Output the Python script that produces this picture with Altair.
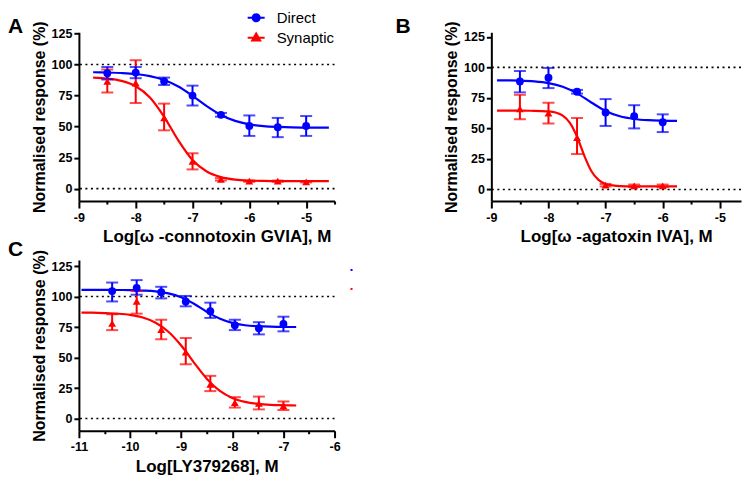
import altair as alt
import pandas as pd

SERIES = ["Direct", "Synaptic"]
COLORS = ["#0000ff", "#ff0000"]
SHAPES = ["circle", "triangle-up"]
Y_TICKS = [0, 25, 50, 75, 100, 125]
Y_TITLE = "Normalised response (%)"
REF_LINES = [0, 100]

# ---------------- Panel A : omega-connotoxin GVIA ----------------
A_x = [-8.5, -8.0, -7.5, -7.0, -6.5, -6.0, -5.5, -5.0]
A_direct = [93.0, 93.5, 86.5, 75.0, 59.5, 50.5, 49.5, 50.5]
A_direct_lo = [88.0, 89.0, 83.5, 67.0, 58.0, 42.5, 41.5, 42.5]
A_direct_hi = [98.0, 98.0, 89.5, 83.0, 61.0, 59.0, 57.0, 58.5]
A_syn = [86.5, 85.0, 57.0, 22.0, 7.5, 6.0, 6.0, 5.5]
A_syn_lo = [77.5, 69.0, 47.0, 15.5, 6.5, 5.5, 5.5, 5.0]
A_syn_hi = [96.0, 103.5, 68.5, 28.5, 8.5, 6.5, 6.5, 6.0]
A_curve_x = [-8.75, -8.5, -8.25, -8.0, -7.75, -7.5, -7.25, -7.0, -6.75, -6.5,
             -6.25, -6.0, -5.75, -5.5, -5.25, -5.0, -4.6]
A_curve_direct = [93.8, 93.6, 93.2, 92.4, 90.7, 87.6, 82.3, 74.8, 66.5, 59.4,
                  54.6, 51.8, 50.4, 49.7, 49.3, 49.2, 49.1]
A_curve_syn = [89.5, 88.7, 86.8, 82.5, 73.4, 57.9, 38.9, 23.1, 13.8, 9.3,
               7.3, 6.5, 6.2, 6.1, 6.0, 6.0, 6.0]
A_xticks = [-9.0, -8.5, -8.0, -7.5, -7.0, -6.5, -6.0, -5.5, -5.0, -4.5]
A_xtitle = "Log[\u03c9 -connotoxin GVIA], M"

# ---------------- Panel B : omega-agatoxin IVA ----------------
B_x = [-8.5, -8.0, -7.5, -7.0, -6.5, -6.0]
B_direct = [88.5, 91.5, 80.0, 63.0, 60.0, 55.0]
B_direct_lo = [79.5, 83.0, 78.5, 52.0, 50.0, 47.0]
B_direct_hi = [97.0, 99.5, 81.5, 74.0, 69.0, 61.5]
B_syn = [66.0, 62.5, 42.5, 3.5, 3.0, 3.0]
B_syn_lo = [57.5, 54.0, 29.0, 2.5, 2.0, 2.0]
B_syn_hi = [77.5, 71.0, 58.5, 4.5, 4.0, 4.0]
B_curve_x_direct = [-8.9, -8.75, -8.5, -8.25, -8.0, -7.75, -7.5, -7.25, -7.0,
                    -6.75, -6.5, -6.25, -6.0, -5.75]
B_curve_direct = [89.4, 89.3, 89.1, 88.5, 87.1, 84.1, 78.7, 71.2, 64.3,
                  59.9, 57.7, 56.7, 56.3, 56.1]
B_curve_x_syn = [-8.9, -8.5, -8.25, -8.0, -7.875, -7.75, -7.625, -7.5, -7.375,
                 -7.25, -7.125, -7.0, -6.875, -6.75, -6.5, -6.0, -5.75]
B_curve_syn = [64.5, 64.5, 64.4, 63.9, 63.0, 60.4, 54.5, 43.2, 27.9,
               15.1, 7.8, 4.5, 3.3, 2.8, 2.6, 2.5, 2.5]
B_xticks = [-9.0, -8.5, -8.0, -7.5, -7.0, -6.5, -6.0, -5.5, -5.0]
B_xtitle = "Log[\u03c9 -agatoxin IVA], M"

# ---------------- Panel C : LY379268 ----------------
C_x = [-10.35, -9.87, -9.39, -8.91, -8.43, -7.95, -7.48, -7.0]
C_direct = [104.5, 107.0, 103.5, 96.0, 88.0, 76.5, 74.0, 77.5]
C_direct_lo = [96.0, 101.5, 98.5, 92.0, 82.5, 72.5, 69.0, 71.5]
C_direct_hi = [111.5, 113.5, 108.0, 100.5, 95.0, 81.0, 79.0, 83.5]
C_syn = [78.0, 96.0, 73.0, 54.5, 28.0, 13.0, 12.5, 10.5]
C_syn_lo = [72.5, 86.0, 65.0, 44.5, 22.5, 9.0, 7.5, 7.0]
C_syn_hi = [85.5, 104.5, 81.0, 66.0, 35.0, 17.5, 18.0, 14.0]
C_curve_x = [-10.95, -10.75, -10.5, -10.25, -10.0, -9.75, -9.5, -9.25, -9.0,
             -8.75, -8.5, -8.25, -8.0, -7.75, -7.5, -7.25, -7.0, -6.75]
C_curve_direct = [105.5, 105.5, 105.5, 105.4, 105.3, 104.9, 104.2, 102.6, 99.4,
                  94.1, 87.6, 82.0, 78.4, 76.5, 75.7, 75.3, 75.1, 75.05]
C_curve_syn = [86.9, 86.8, 86.5, 86.0, 85.0, 82.8, 78.6, 71.2, 59.9,
               45.9, 32.7, 22.9, 16.9, 13.7, 12.0, 11.2, 10.9, 10.7]
C_xticks = [-11.0, -10.5, -10.0, -9.5, -9.0, -8.5, -8.0, -7.5, -7.0, -6.5, -6.0]
C_xtitle = "Log[LY379268], M"

FONT = "Liberation Sans"

CIRCLE_LINE = "M-1,0H1M0.42,0A0.42,0.42,0,1,1,-0.42,0A0.42,0.42,0,1,1,0.42,0Z"
TRI_LINE = "M-1,0H1M0,-0.5L0.47,0.32L-0.47,0.32Z"


def points_df(x, d, dlo, dhi, s, slo, shi):
    rows = []
    for xi, y, lo, hi in zip(x, s, slo, shi):
        rows.append({"x": xi, "y": y, "lo": lo, "hi": hi, "series": "Synaptic"})
    for xi, y, lo, hi in zip(x, d, dlo, dhi):
        rows.append({"x": xi, "y": y, "lo": lo, "hi": hi, "series": "Direct"})
    return pd.DataFrame(rows)


def curve_df(xs, s, xd, d):
    rows = [{"x": a, "y": b, "series": "Synaptic"} for a, b in zip(xs, s)]
    rows += [{"x": a, "y": b, "series": "Direct"} for a, b in zip(xd, d)]
    return pd.DataFrame(rows)


def legend_layer(legend, shapes):
    cscale = alt.Scale(domain=SERIES, range=COLORS)
    return alt.Chart(pd.DataFrame({"series": SERIES})).mark_point(
        filled=True, opacity=0, strokeWidth=2
    ).encode(
        x=alt.value(0), y=alt.value(0),
        color=alt.Color("series:N", scale=cscale, legend=legend),
        stroke=alt.Stroke("series:N", scale=cscale, legend=legend),
        shape=alt.Shape("series:N", scale=alt.Scale(domain=SERIES, range=shapes),
                        legend=legend),
    )


def panel(pdf, cdf, xdom, ydom, w, h, xticks, xtitle, letter, lx, ly,
          leg=None, title_x=None):
    xs = alt.Scale(domain=xdom, nice=False, zero=False)
    ys = alt.Scale(domain=ydom, nice=False, zero=False)
    xaxis_kw = dict(
        values=xticks, title=xtitle,
        labelExpr="datum.value % 1 === 0 ? '' + datum.value : ''",
        tickSize={"condition": {"test": "datum.value % 1 !== 0", "value": 3}, "value": 7},
        labelPadding=3, labelOverlap=False, labelFlush=False,
        titleFontSize=17, titlePadding=5,
    )
    if title_x is not None:
        xaxis_kw["titleX"] = title_x
    xaxis = alt.Axis(**xaxis_kw)
    yaxis = alt.Axis(values=Y_TICKS, title=Y_TITLE, tickSize=5, labelPadding=2,
                     titleFontSize=16, titlePadding=4)
    color = alt.Color("series:N", scale=alt.Scale(domain=SERIES, range=COLORS),
                      legend=None)
    shape = alt.Shape("series:N", scale=alt.Scale(domain=SERIES, range=SHAPES),
                      legend=None)
    X = alt.X("x:Q", scale=xs, axis=xaxis)

    ref = alt.Chart(pd.DataFrame({"ref": REF_LINES})).mark_rule(
        color="black", strokeDash=[2, 3.5], strokeWidth=1.6
    ).encode(y=alt.Y("ref:Q", scale=ys, axis=yaxis))

    curve = alt.Chart(cdf).mark_line(strokeWidth=2.2, interpolate="monotone").encode(
        x=X, y=alt.Y("y:Q", scale=ys, axis=yaxis), color=color, detail="series:N",
        order=alt.Order("x:Q"),
    )
    base = alt.Chart(pdf)
    err = base.mark_rule(strokeWidth=2).encode(
        x=X, y=alt.Y("lo:Q", scale=ys, axis=yaxis), y2="hi:Q", color=color)
    cap_lo = base.mark_tick(thickness=2, size=12, orient="horizontal").encode(
        x=X, y=alt.Y("lo:Q", scale=ys, axis=yaxis), color=color)
    cap_hi = base.mark_tick(thickness=2, size=12, orient="horizontal").encode(
        x=X, y=alt.Y("hi:Q", scale=ys, axis=yaxis), color=color)
    pts = base.mark_point(filled=True, size=62, opacity=1).encode(
        x=X, y=alt.Y("y:Q", scale=ys, axis=yaxis), color=color, shape=shape)
    lab = alt.Chart(pd.DataFrame({"t": [letter]})).mark_text(
        font=FONT, fontSize=21, fontWeight="bold", align="left",
        baseline="alphabetic", color="black"
    ).encode(text="t:N", x=alt.value(lx), y=alt.value(ly))
    layers = [ref, curve, err, cap_lo, cap_hi, pts, lab]
    if leg is not None:
        layers.append(leg)
    return alt.layer(*layers).resolve_scale(
        color="independent", shape="independent", stroke="independent"
    ).properties(width=w, height=h)


legend_A = alt.Legend(
    title=None, orient="none", legendX=168, legendY=-24, padding=0,
    symbolSize=289, symbolStrokeWidth=2, symbolOpacity=1,
    labelFont=FONT, labelFontSize=15, labelColor="black", labelOffset=11,
    rowPadding=2,
)
legend_C = alt.Legend(
    title=None, orient="none", legendX=272, legendY=9, padding=0,
    symbolSize=4, symbolStrokeWidth=0, symbolOpacity=1,
    labelFontSize=1, labelExpr="''", labelOffset=0, rowPadding=17,
)

A = panel(points_df(A_x, A_direct, A_direct_lo, A_direct_hi, A_syn, A_syn_lo, A_syn_hi),
          curve_df(A_curve_x, A_curve_syn, A_curve_x, A_curve_direct),
          [-9, -4.5], [-10, 126], 256, 169, A_xticks, A_xtitle, "A", -71, 1,
          leg=legend_layer(legend_A, [CIRCLE_LINE, TRI_LINE]), title_x=138)
B = panel(points_df(B_x, B_direct, B_direct_lo, B_direct_hi, B_syn, B_syn_lo, B_syn_hi),
          curve_df(B_curve_x_syn, B_curve_syn, B_curve_x_direct, B_curve_direct),
          [-9, -4.63], [-9.5, 128.7], 250, 169, B_xticks, B_xtitle, "B", -96, 1)
C = panel(points_df(C_x, C_direct, C_direct_lo, C_direct_hi, C_syn, C_syn_lo, C_syn_hi),
          curve_df(C_curve_x, C_curve_syn, C_curve_x, C_curve_direct),
          [-11, -6], [-10, 130], 256, 171, C_xticks, C_xtitle, "C", -71, -4,
          leg=legend_layer(legend_C, ["square", "square"]))

chart = alt.vconcat(
    alt.hconcat(A, B, spacing=60), C, spacing=-6
).properties(
    padding={"left": 0, "top": 0, "right": 0, "bottom": 0}
).configure_view(stroke=None).configure_axis(
    domainColor="black", domainWidth=2, tickColor="black", tickWidth=2,
    labelFont=FONT, labelFontSize=12.5, labelFontWeight="bold", labelColor="black",
    titleFont=FONT, titleFontWeight="bold", titleColor="black", grid=False,
)

chart.save("out.html", embed_options={"renderer": "svg", "actions": False})
